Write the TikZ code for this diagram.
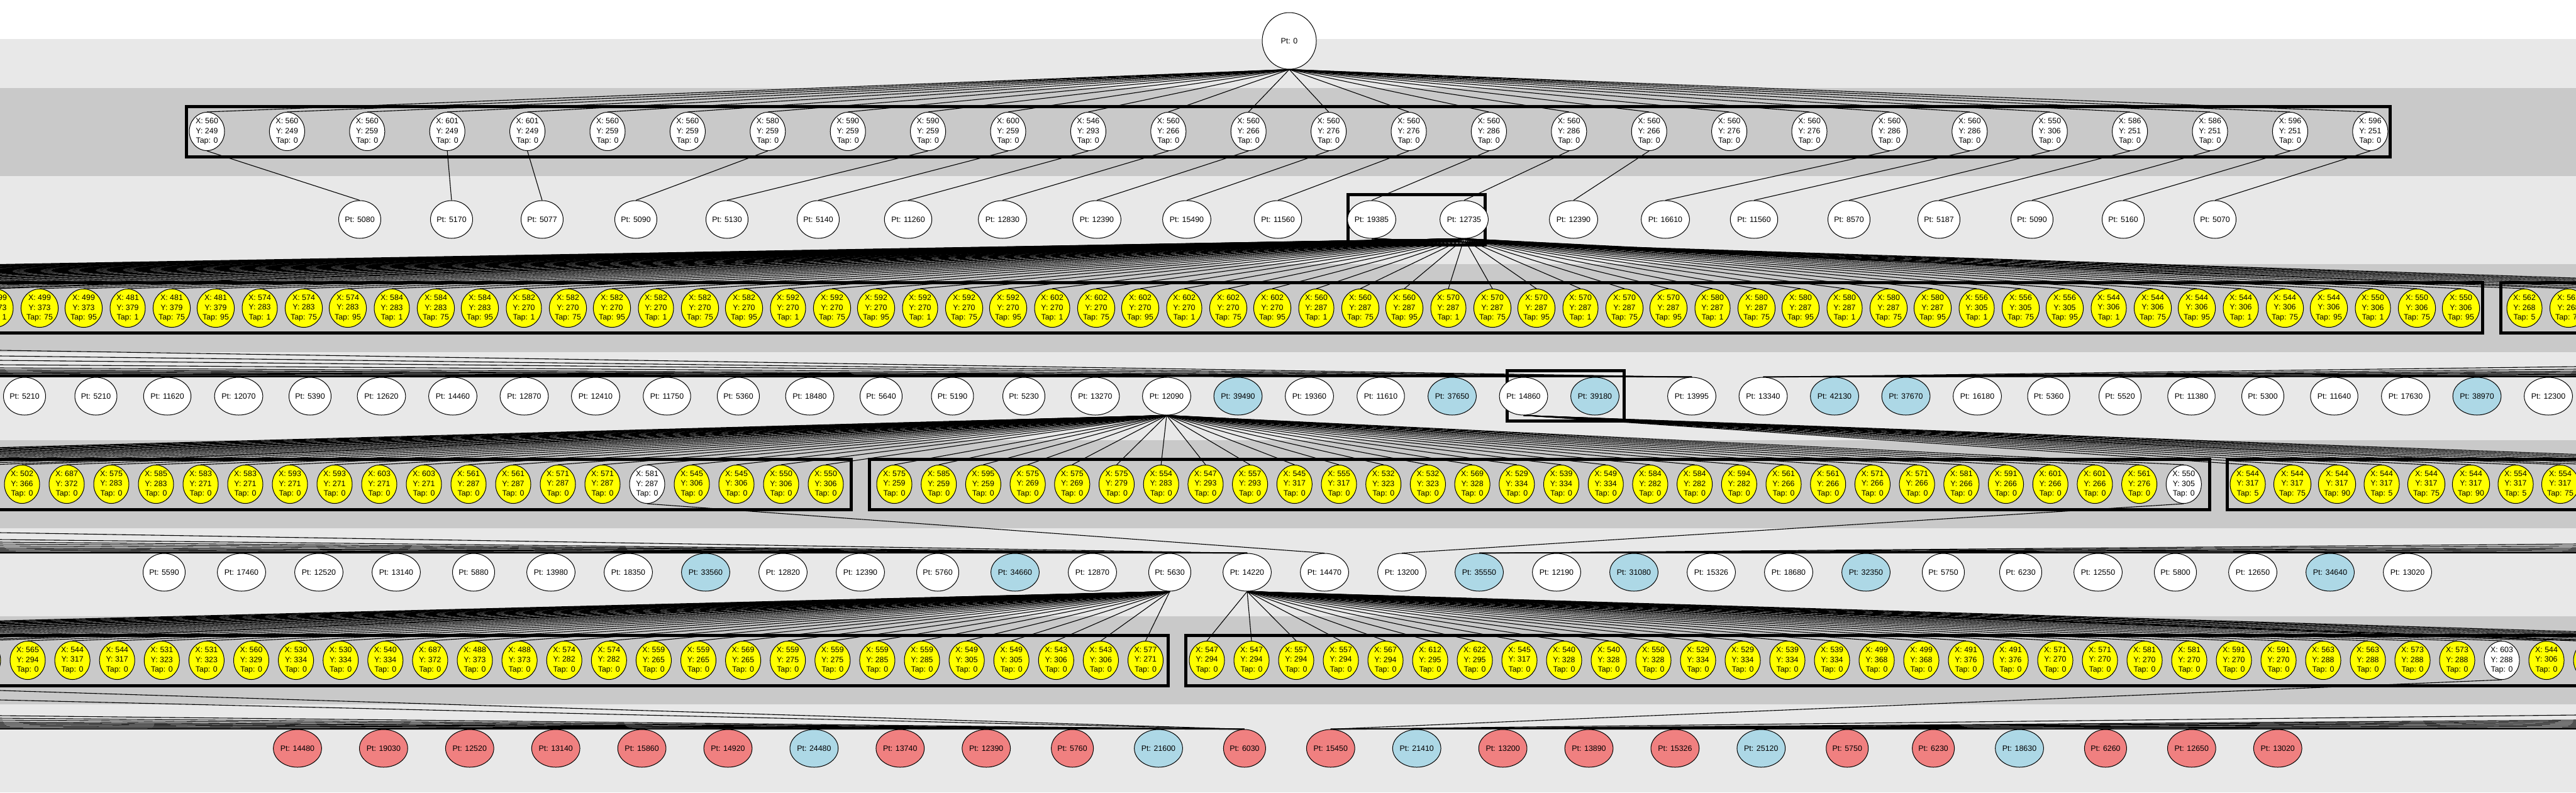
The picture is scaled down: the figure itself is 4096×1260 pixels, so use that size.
\documentclass[tikz,border=0pt]{standalone}
\usepackage{fontspec}
\setmainfont{Liberation Sans}
\usetikzlibrary{shapes.geometric}
\definecolor{banddark}{HTML}{C9C9C9}
\definecolor{bandlight}{HTML}{E8E8E8}
\definecolor{tapyellow}{HTML}{FFFF00}
\definecolor{ptred}{HTML}{F08080}
\definecolor{ptblue}{HTML}{ADD8E6}
\pgfdeclarelayer{bands}
\pgfdeclarelayer{links}
\pgfsetlayers{bands,links,main}
\tikzset{
	every node/.style={font=\fontsize{6.2}{7.85}\selectfont},
	pt/.style={ellipse, draw, line width=0.5pt, fill=white, minimum width=25pt, minimum height=30pt, inner sep=0pt},
	tap/.style={ellipse, draw, line width=0.5pt, fill=tapyellow, minimum width=28pt, minimum height=30.5pt, inner sep=0pt, align=center},
	link/.style={line width=0.55pt},
	group/.style={draw, line width=2.5pt},
}

\begin{document}
\begin{tikzpicture}[x=0.5pt, y=-0.5pt]
	\useasboundingbox (0,0) rectangle (4096,1260);
	
	% root
	\node[pt, minimum width=43pt, minimum height=45pt] (root) at (2050,65) {Pt: 0};
	
	% first moves
	\foreach \xx/\yy [count=\i] in {560/249, 560/249, 560/259, 601/249, 601/249, 560/259, 560/259, 580/259, 590/259, 590/259, 600/259, 546/293, 560/266, 560/266, 560/276, 560/276, 560/286, 560/286, 560/266, 560/276, 560/276, 560/286, 560/286, 550/306, 586/251, 586/251, 596/251, 596/251}
		\node[tap, fill=white] (a\i) at ({329+127.4*(\i-1)},209) {X: \xx\\Y: \yy\\Tap: 0};
	
	\foreach \px/\pv [count=\i] in {572/5080, 718/5170, 862/5077, 1011/5090, 1156/5130, 1301/5140, 1444/11260, 1594/12830, 1744/12390, 1887/15490, 2032/11560, 2181/19385, 2328/12735, 2502/12390, 2648/16610, 2789/11560, 2940/8570, 3083/5187, 3231/5090, 3376/5160, 3522/5070}
		\node[pt] (b\i) at (\px,349) {Pt: \pv};
	
	% second moves
	\foreach \xx/\yy/\tt [count=\i] in {499/373/1, 499/373/75, 499/373/95, 481/379/1, 481/379/75, 481/379/95, 574/283/1, 574/283/75, 574/283/95, 584/283/1, 584/283/75, 584/283/95, 582/270/1, 582/270/75, 582/270/95, 582/270/1, 582/270/75, 582/270/95, 592/270/1, 592/270/75, 592/270/95, 592/270/1, 592/270/75, 592/270/95, 602/270/1, 602/270/75, 602/270/95, 602/270/1, 602/270/75, 602/270/95, 560/287/1, 560/287/75, 560/287/95, 570/287/1, 570/287/75, 570/287/95, 570/287/1, 570/287/75, 570/287/95, 580/287/1, 580/287/75, 580/287/95, 580/287/1, 580/287/75, 580/287/95, 556/305/1, 556/305/75, 556/305/95, 544/306/1, 544/306/75, 544/306/95, 544/306/1, 544/306/75, 544/306/95, 550/306/1, 550/306/75, 550/306/95}
		\node[tap] (c\i) at ({-7+70*(\i-1)},490) {X: \xx\\Y: \yy\\Tap: \tt};
	\node[tap] (c58) at (4014,490) {X: 562\\Y: 268\\Tap: 5};
	\node[tap] (c59) at (4084,490) {X: 562\\Y: 268\\Tap: 75};
	
	\foreach \pv/\cc [count=\i] in {5210/white, 5210/white, 11620/white, 12070/white, 5390/white, 12620/white, 14460/white, 12870/white, 12410/white, 11750/white, 5360/white, 18480/white, 5640/white, 5190/white, 5230/white, 13270/white, 12090/white, 39490/ptblue, 19360/white, 11610/white, 37650/ptblue, 14860/white, 39180/ptblue}
		\node[pt, fill=\cc] (d\i) at ({39+113.5*(\i-1)},630) {Pt: \pv};
	\foreach \pv/\cc [count=\i from 24] in {13995/white, 13340/white, 42130/ptblue, 37670/ptblue, 16180/white, 5360/white, 5520/white, 11380/white, 5300/white, 11640/white, 17630/white, 38970/ptblue, 12300/white}
		\node[pt, fill=\cc] (d\i) at ({2690+113.5*(\i-24)},630) {Pt: \pv};
	
	% third moves
	\foreach \xx/\yy/\cc [count=\i] in {502/366/tapyellow, 687/372/tapyellow, 575/283/tapyellow, 585/283/tapyellow, 583/271/tapyellow, 583/271/tapyellow, 593/271/tapyellow, 593/271/tapyellow, 603/271/tapyellow, 603/271/tapyellow, 561/287/tapyellow, 561/287/tapyellow, 571/287/tapyellow, 571/287/tapyellow, 581/287/white, 545/306/tapyellow, 545/306/tapyellow, 550/306/tapyellow, 550/306/tapyellow}
		\node[tap, fill=\cc] (e\i) at ({35+71*(\i-1)},770) {X: \xx\\Y: \yy\\Tap: 0};
	\foreach \xx/\yy/\cc [count=\i from 20] in {575/259/tapyellow, 585/259/tapyellow, 595/259/tapyellow, 575/269/tapyellow, 575/269/tapyellow, 575/279/tapyellow, 554/283/tapyellow, 547/293/tapyellow, 557/293/tapyellow, 545/317/tapyellow, 555/317/tapyellow, 532/323/tapyellow, 532/323/tapyellow, 569/328/tapyellow, 529/334/tapyellow, 539/334/tapyellow, 549/334/tapyellow, 584/282/tapyellow, 584/282/tapyellow, 594/282/tapyellow, 561/266/tapyellow, 561/266/tapyellow, 571/266/tapyellow, 571/266/tapyellow, 581/266/tapyellow, 591/266/tapyellow, 601/266/tapyellow, 601/266/tapyellow, 561/276/tapyellow, 550/305/white}
		\node[tap, fill=\cc] (e\i) at ({1422+70.7*(\i-20)},770) {X: \xx\\Y: \yy\\Tap: 0};
	\foreach \xx/\tt [count=\i from 50] in {544/5, 544/75, 544/90, 544/5, 544/75, 544/90, 554/5, 554/75}
		\node[tap] (e\i) at ({3574+71*(\i-50)},770) {X: \xx\\Y: 317\\Tap: \tt};
	
	\foreach \pv/\cc [count=\i] in {5590/white, 17460/white, 12520/white, 13140/white, 5880/white, 13980/white, 18350/white, 33560/ptblue, 12820/white, 12390/white, 5760/white, 34660/ptblue, 12870/white, 5630/white, 14220/white, 14470/white, 13200/white, 35550/ptblue, 12190/white, 31080/ptblue, 15326/white, 18680/white, 32350/ptblue, 5750/white, 6230/white, 12550/white, 5800/white, 12650/white, 34640/ptblue, 13020/white}
		\node[pt, fill=\cc] (f\i) at ({261+123*(\i-1)},910) {Pt: \pv};
	
	% fourth moves
	\node[tap] (g0) at (-27,1050) {X: 555\\Y: 294\\Tap: 0};
	\foreach \xx/\yy [count=\i] in {565/294, 544/317, 544/317, 531/323, 531/323, 560/329, 530/334, 530/334, 540/334, 687/372, 488/373, 488/373, 574/282, 574/282, 559/265, 559/265, 569/265, 559/275, 559/275, 559/285, 559/285, 549/305, 549/305, 543/306, 543/306, 577/271}
		\node[tap] (g\i) at ({44+71.1*(\i-1)},1050) {X: \xx\\Y: \yy\\Tap: 0};
	\foreach \xx/\yy/\cc [count=\i from 27] in {547/294/tapyellow, 547/294/tapyellow, 557/294/tapyellow, 557/294/tapyellow, 567/294/tapyellow, 612/295/tapyellow, 622/295/tapyellow, 545/317/tapyellow, 540/328/tapyellow, 540/328/tapyellow, 550/328/tapyellow, 529/334/tapyellow, 529/334/tapyellow, 539/334/tapyellow, 539/334/tapyellow, 499/368/tapyellow, 499/368/tapyellow, 491/376/tapyellow, 491/376/tapyellow, 571/270/tapyellow, 571/270/tapyellow, 581/270/tapyellow, 581/270/tapyellow, 591/270/tapyellow, 591/270/tapyellow, 563/288/tapyellow, 563/288/tapyellow, 573/288/tapyellow, 573/288/tapyellow, 603/288/white, 544/306/tapyellow, 544/306/tapyellow}
		\node[tap, fill=\cc] (g\i) at ({1919+71*(\i-27)},1050) {X: \xx\\Y: \yy\\Tap: 0};
	
	\foreach \pv/\cc [count=\i] in {14480/ptred, 19030/ptred, 12520/ptred, 13140/ptred, 15860/ptred, 14920/ptred, 24480/ptblue, 13740/ptred, 12390/ptred, 5760/ptred, 21600/ptblue, 6030/ptred, 15450/ptred, 21410/ptblue, 13200/ptred, 13890/ptred, 15326/ptred, 25120/ptblue, 5750/ptred, 6230/ptred, 18630/ptblue, 6260/ptred, 12650/ptred, 13020/ptred}
		\node[pt, fill=\cc] (h\i) at ({473+136.9*(\i-1)},1190) {Pt: \pv};
	
	% links
	\begin{pgfonlayer}{links}
		\foreach \i in {1,...,28}
			\draw[link] (root.south) -- (a\i.north);
		\foreach \p/\c in {1/1, 4/2, 5/3, 8/4, 10/5, 11/6, 12/7, 13/8, 14/9, 15/10, 16/11, 17/12, 18/13, 19/14, 22/15, 23/16, 24/17, 25/18, 26/19, 27/20, 28/21}
			\draw[link] (a\p.south) -- (b\c.north);
		% children of 12735 and 19385, some beyond the edges
		\foreach \i in {1,...,57}
			\draw[link] (b13.south) -- (c\i.north);
		\foreach \k in {1,...,32} {
			\coordinate (cl\k) at ({-7-70*\k},460);
			\draw[link] (b13.south) -- (cl\k);
		}
		\draw[link] (b12.south) -- (c58.north);
		\draw[link] (b12.south) -- (c59.north);
		\foreach \k in {1,...,8} {
			\coordinate (cr\k) at ({4084+70*\k},460);
			\draw[link] (b12.south) -- (cr\k);
		}
		% long links into the second Pt row
		\foreach \yy/\t [count=\k] in {557/24, 566/24, 573/24, 580/24, 585/24, 588/24, 590/24, 592/24, 593.5/24, 595/24, 596.5/24, 597.5/24, 598/17, 598.7/12, 599.2/8, 599.5/16} {
			\coordinate (dl\k) at (0,\yy);
			\draw[link] (dl\k) -- (d\t.north);
		}
		\foreach \yy/\t [count=\k] in {583/25, 587/25, 590/25, 592/25, 594/25, 595.5/25, 597/25, 598/25, 598.6/30, 599.2/33} {
			\coordinate (dr\k) at (4096,\yy);
			\draw[link] (dr\k) -- (d\t.north);
		}
		% children of 12090 and 14860
		\foreach \i in {1,...,49}
			\draw[link] (d17.south) -- (e\i.north);
		\foreach \k in {1,...,15} {
			\coordinate (el\k) at ({35-71*\k},740);
			\draw[link] (d17.south) -- (el\k);
		}
		\foreach \i in {50,...,57}
			\draw[link] (d22.south) -- (e\i.north);
		\foreach \k in {8,...,14} {
			\coordinate (er\k) at ({3574+71*\k},740);
			\draw[link] (d22.south) -- (er\k);
		}
		% long links into the third Pt row
		\draw[link] (e15.south) -- (f16.north);
		\draw[link] (e49.south) -- (f17.north);
		\foreach \yy/\t [count=\k] in {847/15, 858/15, 862/15, 865/15, 868/15, 871/15, 873/15, 875/15, 877/15, 878.5/15, 879/14, 879.3/13, 879.6/9} {
			\coordinate (fl\k) at (0,\yy);
			\draw[link] (fl\k) -- (f\t.north);
		}
		\foreach \yy/\t [count=\k] in {865/18, 868/18, 871/18, 873/18, 875/18, 877/18, 878.5/18, 879/21, 879.5/25} {
			\coordinate (fr\k) at (4096,\yy);
			\draw[link] (fr\k) -- (f\t.north);
		}
		% children of 5630 and 14220
		\foreach \i in {0,...,26}
			\draw[link] (f14.south) -- (g\i.north);
		\foreach \k in {1,...,18} {
			\coordinate (gl\k) at ({-27-71.1*\k},1020);
			\draw[link] (f14.south) -- (gl\k);
		}
		\foreach \i in {27,...,58}
			\draw[link] (f15.south) -- (g\i.north);
		\foreach \k in {1,...,8} {
			\coordinate (gr\k) at ({4049+71*\k},1020);
			\draw[link] (f15.south) -- (gr\k);
		}
		% long links into the last Pt row
		\draw[link] (g56.south) -- (h13.north);
		\foreach \yy/\t [count=\k] in {1098/12, 1113/12, 1138/12, 1142/12, 1145/12, 1148/12, 1150/12, 1152/12, 1154/12, 1156/12, 1158/12, 1159/10, 1159.4/8} {
			\coordinate (hl\k) at (0,\yy);
			\draw[link] (hl\k) -- (h\t.north);
		}
		\foreach \yy/\t [count=\k] in {1137/13, 1145/13, 1147/13, 1149/13, 1151/13, 1153/13, 1155/13, 1157/13, 1158.5/16, 1159.2/19} {
			\coordinate (hr\k) at (4096,\yy);
			\draw[link] (hr\k) -- (h\t.north);
		}
	\end{pgfonlayer}
	
	% bands and groups
	\begin{pgfonlayer}{bands}
		\fill[bandlight] (0,62) rectangle (4096,140);
		\foreach \t in {140,420,700,980} {
			\fill[banddark] (0,\t) rectangle (4096,\t+140);
			\fill[bandlight] (0,\t+140) rectangle (4096,\t+280);
		}
		\draw[group] (296,169) rectangle (3800,249);
		\draw[group] (2143,309) rectangle (2361,389);
		\draw[group] (-20,449) rectangle (3947,529);
		\draw[group] (3976,449) rectangle (4130,529);
		\draw[group] (2396,589) rectangle (2582,669);
		\draw[group] (-20,730) rectangle (1353,810);
		\draw[group] (1382,730) rectangle (3513,810);
		\draw[group] (3541,730) rectangle (4130,810);
		\draw[group] (-20,1010) rectangle (1857,1090);
		\draw[group] (1885,1010) rectangle (4130,1090);
	\end{pgfonlayer}
\end{tikzpicture}
\end{document}
